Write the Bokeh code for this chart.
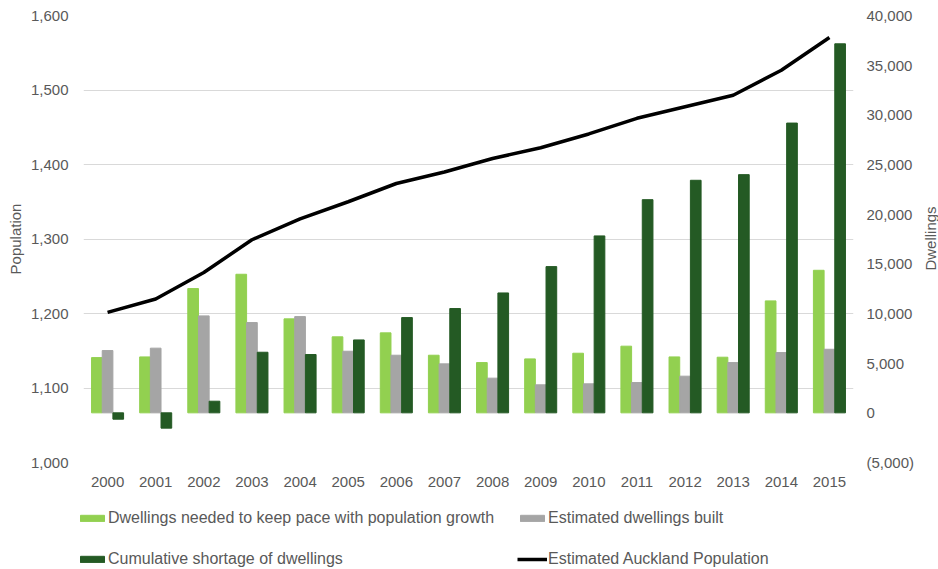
import math
from bokeh.plotting import figure
from bokeh.layouts import column, row
from bokeh.core.properties import value
from bokeh.models import (ColumnDataSource, FactorRange, Range1d, LinearAxis, FixedTicker,
                          NumeralTickFormatter, Legend, LegendItem)
from bokeh.transform import dodge
from bokeh.embed import file_html
from bokeh.resources import INLINE

years = [str(y) for y in range(2000, 2016)]
needed = [5560, 5630, 12510, 13950, 9460, 7650, 8050, 5800, 5060, 5430, 6000, 6710, 5630, 5600, 11270, 14350]
built = [6270, 6510, 9760, 9090, 9690, 6200, 5800, 4930, 3490, 2820, 2920, 3050, 3690, 5060, 6070, 6400]
shortage = [-640, -1540, 1170, 6100, 5870, 7340, 9590, 10500, 12070, 14720, 17810, 21460, 23410, 23980, 29170, 37150]
population = [1201.5, 1219.5, 1255, 1299, 1327, 1350, 1374.5, 1390, 1408, 1422.5, 1441, 1462, 1477.5, 1493, 1526.5, 1570.5]

left_ticks = [1000, 1100, 1200, 1300, 1400, 1500, 1600]
right_ticks = [-5000, 0, 5000, 10000, 15000, 20000, 25000, 30000, 35000, 40000]

labels = ["Dwellings needed to keep pace with population growth", "Estimated dwellings built",
          "Cumulative shortage of dwellings", "Estimated Auckland Population"]
right_title = "Dwellings"

GREEN = "#92D050"
GRAY = "#A5A5A5"
DARK = "#245A24"
TXT = "#595959"
FONT = "Liberation Sans"

src = ColumnDataSource(dict(year=years, needed=needed, built=built, shortage=shortage, pop=population))

p = figure(width=922, height=494, x_range=FactorRange(*years), y_range=Range1d(1000, 1600),
           output_backend="svg", toolbar_location=None,
           min_border_left=83, min_border_right=69, min_border_top=15, min_border_bottom=32)
p.extra_y_ranges = {"dw": Range1d(-5000, 40000)}
p.outline_line_color = None
p.x_range.range_padding = 0
p.x_range.group_padding = 0

bw = 0.222
r1 = p.vbar(x=dodge("year", -bw, range=p.x_range), top="needed", bottom=0, width=bw,
            source=src, color=GREEN, y_range_name="dw")
r2 = p.vbar(x=dodge("year", 0, range=p.x_range), top="built", bottom=0, width=bw,
            source=src, color=GRAY, y_range_name="dw")
r3 = p.vbar(x=dodge("year", bw, range=p.x_range), top="shortage", bottom=0, width=bw,
            source=src, color=DARK, y_range_name="dw")
r4 = p.line(x="year", y="pop", source=src, line_color="black", line_width=3.5)


def style_axis(a, standoff):
    a.axis_line_color = None
    a.major_tick_line_color = None
    a.minor_tick_line_color = None
    a.major_tick_out = 0
    a.major_tick_in = 0
    a.minor_tick_out = 0
    a.minor_tick_in = 0
    a.major_label_standoff = standoff
    a.major_label_text_font = FONT
    a.major_label_text_font_size = "15px"
    a.major_label_text_color = TXT
    a.axis_label_text_font = FONT
    a.axis_label_text_font_size = "15px"
    a.axis_label_text_font_style = "normal"
    a.axis_label_text_color = TXT


ax = p.yaxis[0]
ax.ticker = FixedTicker(ticks=left_ticks)
ax.formatter = NumeralTickFormatter(format="0,0")
ax.axis_label = "Population"
style_axis(ax, 15)
ax.axis_label_standoff = 4

rax = LinearAxis(y_range_name="dw", ticker=FixedTicker(ticks=right_ticks),
                 formatter=NumeralTickFormatter(format="(0,0)"))
style_axis(rax, 13)
p.add_layout(rax, "right")

xa = p.xaxis[0]
style_axis(xa, 14)

p.xgrid.grid_line_color = None
p.ygrid.grid_line_color = "#D9D9D9"
p.ygrid.grid_line_width = 1

# right-hand axis title strip (reads bottom-to-top like the reference)
rf = figure(width=16, height=494, x_range=Range1d(0, 16), y_range=Range1d(0, 494),
            output_backend="svg", toolbar_location=None, x_axis_location=None, y_axis_location=None,
            min_border_left=0, min_border_right=0, min_border_top=0, min_border_bottom=0)
rf.outline_line_color = None
rf.xgrid.visible = False
rf.ygrid.visible = False
rf.text(x=[8], y=[494 - 238], text=[right_title], angle=math.pi / 2, text_align="center",
        text_baseline="middle", text_font=value(FONT), text_font_size="15px", text_color=TXT)

# legend strip below the chart
lf = figure(width=938, height=75, x_range=Range1d(0, 10), y_range=Range1d(0, 10),
            output_backend="svg", toolbar_location=None, x_axis_location=None, y_axis_location=None,
            min_border_left=77, min_border_right=85, min_border_top=0, min_border_bottom=0)
for f in (p, rf, lf):
    try:
        f.frame_align = False
    except Exception:
        pass
lf.outline_line_color = None
lf.xgrid.visible = False
lf.ygrid.visible = False
l1 = lf.vbar(x=[-50], top=[-40], bottom=[-45], width=1, color=GREEN)
l2 = lf.vbar(x=[-50], top=[-40], bottom=[-45], width=1, color=GRAY)
l3 = lf.vbar(x=[-50], top=[-40], bottom=[-45], width=1, color=DARK)
l4 = lf.line(x=[-50, -49], y=[-40, -40], line_color="black", line_width=3.5)

legend = Legend(items=[
    LegendItem(label=labels[0], renderers=[l1]),
    LegendItem(label=labels[2], renderers=[l3]),
    LegendItem(label=labels[1], renderers=[l2]),
    LegendItem(label=labels[3], renderers=[l4]),
], ncols=2, location=(0, 1))
legend.padding = 0
legend.margin = 0
legend.border_line_color = None
legend.background_fill_alpha = 0
legend.glyph_width = 30
legend.glyph_height = 8
legend.label_standoff = 1
legend.spacing = 23
legend.label_text_font = FONT
legend.label_text_font_size = "16px"
legend.label_text_color = TXT
legend.label_height = 18
lf.add_layout(legend, "center")

layout = column(row(p, rf, spacing=0), lf, spacing=0)
open("out.html", "w").write(file_html(layout, INLINE))
